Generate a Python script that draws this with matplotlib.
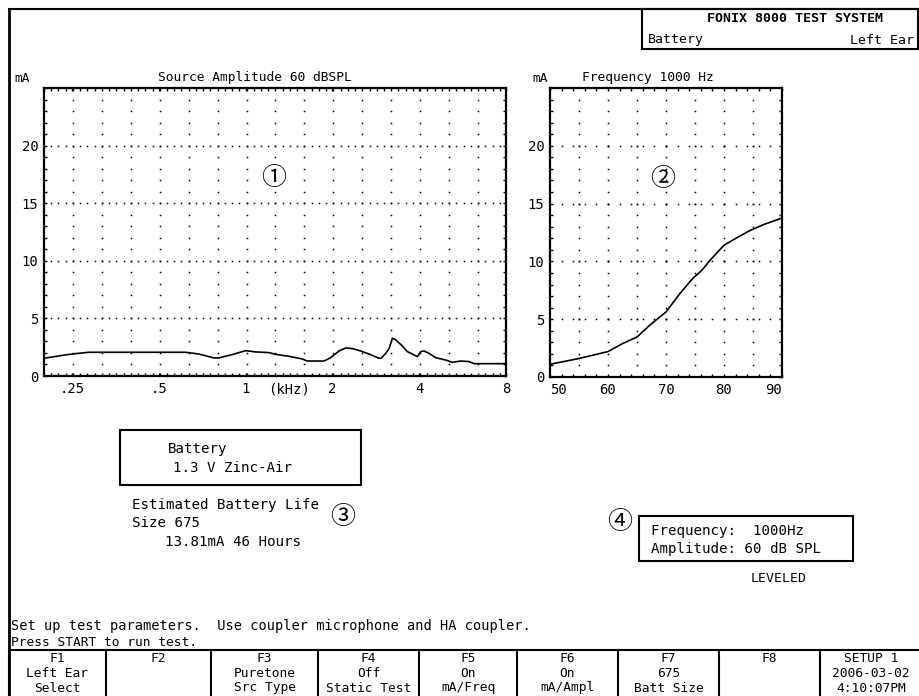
import numpy as np
import matplotlib
matplotlib.use("Agg")
import matplotlib.pyplot as plt
from matplotlib.patches import Rectangle
from matplotlib.ticker import FixedLocator, NullFormatter

# data
freq_hz = [200, 237, 257, 286, 619, 688, 776, 808, 899, 1000, 1083, 1205, 1271, 1413,
           1572, 1637, 1871, 1972, 2109, 2223, 2346, 2507, 2680, 2904, 2950, 3064, 3148,
           3229, 3318, 3495, 3638, 3786, 3940, 4051, 4157, 4326, 4564, 4940, 5209, 5572,
           5959, 6203, 8000]
freq_ma = [1.54, 1.83, 1.94, 2.06, 2.06, 1.91, 1.57, 1.57, 1.86, 2.20, 2.09, 2.03, 1.88, 1.71,
           1.48, 1.30, 1.30, 1.59, 2.17, 2.43, 2.38, 2.17, 1.91, 1.54, 1.54, 1.97, 2.40,
           3.28, 3.14, 2.61, 2.12, 1.91, 1.68, 2.12, 2.17, 1.97, 1.59, 1.39, 1.19, 1.30,
           1.25, 1.07, 1.07]

ampl_db = [50, 55, 60, 62.5, 65, 67.2, 70, 72.4, 74.6, 76.2, 77.6, 80, 82.3, 84.6, 86.9, 90]
ampl_ma = [1.1, 1.6, 2.2, 2.89, 3.46, 4.48, 5.63, 7.22, 8.52, 9.24, 10.1, 11.4, 12.07, 12.7, 13.2, 13.75]

freq_ticks = [250, 500, 1000, 2000, 4000, 8000]
freq_ticklabels = ['.25', '.5', '1', '2', '4', '8']
ampl_ticks = [50, 60, 70, 80, 90]
ma_ticks = [0, 5, 10, 15, 20]

fkey_top = ['F1', 'F2', 'F3', 'F4', 'F5', 'F6', 'F7', 'F8', 'SETUP 1']
fkey_mid = ['Left Ear', '', 'Puretone', 'Off', 'On', 'On', '675', '', '2006-03-02']
fkey_bot = ['Select', '', 'Src Type', 'Static Test', 'mA/Freq', 'mA/Ampl', 'Batt Size', '', '4:10:07PM']

W, H = 919, 696
MONO = 'DejaVu Sans Mono'
CIRC = ['Noto Sans CJK JP', 'DejaVu Sans']
plt.rcParams['font.family'] = MONO

fig = plt.figure(figsize=(W / 100, H / 100), dpi=100)

DOT = dict(ls='none', marker='s', ms=1.1, mew=0, color='black')


def px_axes(x0, y0, x1, y1):
    return fig.add_axes([x0 / W, 1 - y1 / H, (x1 - x0) / W, (y1 - y0) / H])


def style_frame(ax):
    for s in ax.spines.values():
        s.set_linewidth(1.6)
        s.set_color('black')
    ax.tick_params(which='both', direction='in', top=True, right=True, color='black')
    ax.tick_params(which='major', length=2.5, width=1, labelsize=10, pad=4)
    ax.tick_params(which='minor', length=2, width=1)
    ax.yaxis.set_minor_locator(FixedLocator(np.arange(0, 26)))
    ax.set_yticks(ma_ticks)
    ax.set_ylim(0, 25)


# ---- left chart: mA vs frequency
ax1 = px_axes(44, 88, 506, 376)
ax1.set_xscale('log')
ax1.set_xlim(200, 8000)
style_frame(ax1)
twelfth = 200 * 2 ** (np.arange(0, 64) / 12)
third = 200 * 2 ** (np.arange(1, 16) / 3)
for y in [5, 10, 15, 20]:
    ax1.plot(twelfth, np.full(len(twelfth), y), **DOT)
for f in third:
    ax1.plot(np.full(24, f), np.arange(1, 25), **DOT)
ax1.plot(freq_hz, freq_ma, color='black', lw=1.2)
ax1.xaxis.set_minor_locator(FixedLocator(twelfth))
ax1.xaxis.set_minor_formatter(NullFormatter())
ax1.set_xticks(freq_ticks, freq_ticklabels)
ax1.text(1414, -0.023, '(kHz)', transform=ax1.get_xaxis_transform(), ha='center', va='top', fontsize=10)

# ---- right chart: mA vs amplitude
ax2 = px_axes(550, 88, 782, 377)
ax2.set_xlim(50, 90)
style_frame(ax2)
two_db = np.arange(52, 90, 2)
five_db = np.arange(55, 90, 5)
for y in [5, 10, 15, 20]:
    ax2.plot(np.concatenate([two_db, five_db]), np.full(len(two_db) + len(five_db), y), **DOT)
for x in five_db:
    ax2.plot(np.full(24, x), np.arange(1, 25), **DOT)
ax2.plot(ampl_db, ampl_ma, color='black', lw=1.2)
ax2.xaxis.set_minor_locator(FixedLocator(np.arange(50, 91, 2)))
ax2.set_xticks(ampl_ticks, [str(v) for v in ampl_ticks])
labs = ax2.get_xticklabels()
labs[0].set_ha('left')
labs[-1].set_ha('right')

# ---- screen overlay
ov = fig.add_axes([0, 0, 1, 1])
ov.set_xlim(0, W)
ov.set_ylim(H, 0)
ov.axis('off')

ov.plot([9, 9], [9, 696], color='black', lw=2)
ov.plot([9, 919], [9, 9], color='black', lw=1.5)

# title box
ov.add_patch(Rectangle((642, 9), 276, 40, fill=False, lw=1.5, ec='black'))
ov.text(795, 19, 'FONIX 8000 TEST SYSTEM', ha='center', va='center', fontsize=9.5, fontweight='bold')
ov.text(648, 40, 'Battery', ha='left', va='center', fontsize=9.5)
ov.text(914, 40, 'Left Ear', ha='right', va='center', fontsize=9.5)

# chart headers
ov.text(22, 78, 'mA', ha='center', va='center', fontsize=9.3)
ov.text(255, 78, 'Source Amplitude 60 dBSPL', ha='center', va='center', fontsize=9.3)
ov.text(540, 78, 'mA', ha='center', va='center', fontsize=9.3)
ov.text(648, 78, 'Frequency 1000 Hz', ha='center', va='center', fontsize=9.3)

# circled markers
ov.text(274, 178, '\u2460', ha='center', va='center', fontsize=18, family=CIRC)
ov.text(663, 179, '\u2461', ha='center', va='center', fontsize=18, family=CIRC)
ov.text(343, 517, '\u2462', ha='center', va='center', fontsize=18, family=CIRC)
ov.text(620, 522, '\u2463', ha='center', va='center', fontsize=18, family=CIRC)

# battery box
ov.add_patch(Rectangle((120, 430), 241, 55, fill=False, lw=1.5, ec='black'))
ov.text(168, 449, 'Battery', ha='left', va='center', fontsize=10.2)
ov.text(173, 468, '1.3 V Zinc-Air', ha='left', va='center', fontsize=10.2)
ov.text(132, 505, 'Estimated Battery Life', ha='left', va='center', fontsize=10.2)
ov.text(132, 523, 'Size 675', ha='left', va='center', fontsize=10.2)
ov.text(165, 542, '13.81mA 46 Hours', ha='left', va='center', fontsize=10.2)

# source box
ov.add_patch(Rectangle((639, 516), 214, 45, fill=False, lw=1.5, ec='black'))
ov.text(651, 531, 'Frequency:  1000Hz', ha='left', va='center', fontsize=10.2)
ov.text(651, 549, 'Amplitude: 60 dB SPL', ha='left', va='center', fontsize=10.2)
ov.text(751, 578, 'LEVELED', ha='left', va='center', fontsize=9.5)

# prompt lines
ov.text(11, 626, 'Set up test parameters.  Use coupler microphone and HA coupler.',
        ha='left', va='center', fontsize=9.8)
ov.text(11, 643, 'Press START to run test.', ha='left', va='center', fontsize=9.3)

# function keys
edges = [9, 106, 211, 318, 419, 517, 618, 719, 820, 922]
ov.plot([9, 919], [650, 650], color='black', lw=1.5)
for i in range(len(fkey_top)):
    ov.plot([edges[i], edges[i]], [650, 696], color='black', lw=1.5)
    cx = (edges[i] + edges[i + 1]) / 2
    ov.text(cx, 659, fkey_top[i], ha='center', va='center', fontsize=9.3)
    ov.text(cx, 673.5, fkey_mid[i], ha='center', va='center', fontsize=9.3)
    ov.text(cx, 688, fkey_bot[i], ha='center', va='center', fontsize=9.3)

fig.savefig('out.png', dpi=100, facecolor='white')
